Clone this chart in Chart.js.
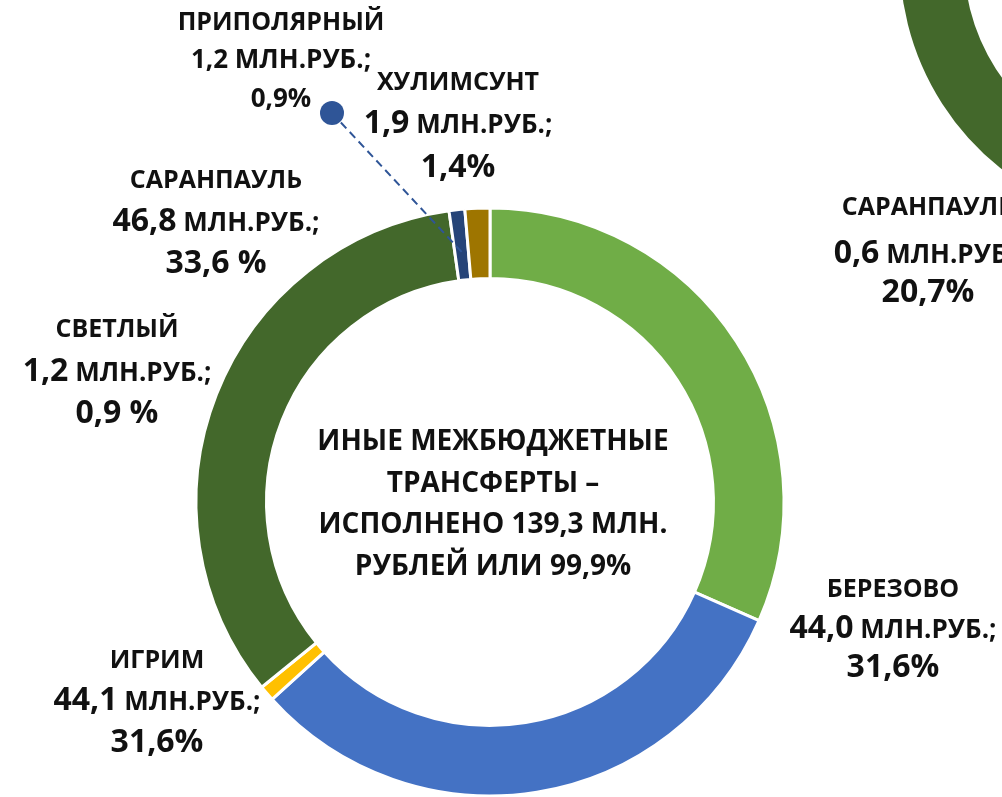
<!DOCTYPE html>
<html lang="ru">
<head>
  <meta charset="UTF-8" />
  <title>Иные межбюджетные трансферты</title>
  <script src="https://cdn.jsdelivr.net/npm/chart.js"></script>
  <style>
    html, body { margin: 0; padding: 0; background: #fff; overflow: hidden; }
    #wrap { position: relative; width: 1002px; height: 797px; overflow: hidden; }
    #sideChart { position: absolute; left: 897px; top: -309px; }
    #mainChart { position: absolute; left: 0; top: 0; }
  </style>
</head>
<body>
  <div id="wrap">
    <canvas id="sideChart" width="540" height="540"></canvas>
    <canvas id="mainChart" width="1002" height="840"></canvas>
  </div>

  <script>
    // поселения, исполнение иных МБТ
    const districts = ['БЕРЕЗОВО', 'ИГРИМ', 'СВЕТЛЫЙ', 'САРАНПАУЛЬ', 'ПРИПОЛЯРНЫЙ', 'ХУЛИМСУНТ'];
    const amounts = [44.0, 44.1, 1.2, 46.8, 1.2, 1.9];      // млн руб.
    const shares = [31.6, 31.6, 0.9, 33.6, 0.9, 1.4];        // %
    const colors = ['#70AD47', '#4472C4', '#FFC000', '#43682B', '#264478', '#9E7500'];

    const centerLines = ['ИНЫЕ МЕЖБЮДЖЕТНЫЕ', 'ТРАНСФЕРТЫ –', 'ИСПОЛНЕНО 139,3 МЛН.', 'РУБЛЕЙ ИЛИ 99,9%'];

    // соседняя диаграмма, от неё виден только край
    const sideDistricts = ['САРАНПАУЛЬ'];
    const sideAmounts = [0.6];
    const sideShares = [20.7];

    // подписи: x центра и базовые линии трёх строк
    const labelPos = [
      [893, 597, 638, 677],
      [157, 668, 710, 752],
      [117, 337, 381, 423],
      [216, 188, 231, 273],
      [281, 30, 68, 107],
      [458, 90, 133, 177]
    ];
    const spacedPct = [false, false, true, true, false, false];
    const smallOnly = [false, false, false, false, true, false];
    const sideLabelPos = [928, 215, 263, 302];
    const centerBase = [450, 492, 533, 575];

    const FONT = '"Open Sans", "Noto Sans", sans-serif';
    const NAME = 'bold 25px ' + FONT;
    const UNIT = 'bold 26px ' + FONT;
    const BIG = 'bold 32px ' + FONT;
    const MID = 'bold 28px ' + FONT;

    function num(v) {
      return v.toFixed(1).replace('.', ',');
    }

    function drawLine(ctx, runs, cx, y) {
      let total = 0;
      runs.forEach(r => { ctx.font = r[1]; total += ctx.measureText(r[0]).width; });
      let x = cx - total / 2;
      runs.forEach(r => {
        ctx.font = r[1];
        ctx.fillText(r[0], x, y);
        x += ctx.measureText(r[0]).width;
      });
    }

    function drawLabel(ctx, name, amount, share, spaced, small, pos) {
      const big = small ? UNIT : BIG;
      drawLine(ctx, [[name, NAME]], pos[0], pos[1]);
      drawLine(ctx, [[num(amount), big], [' МЛН.РУБ.;', UNIT]], pos[0], pos[2]);
      drawLine(ctx, [[num(share) + (spaced ? ' %' : '%'), big]], pos[0], pos[3]);
    }

    const labelPlugin = {
      id: 'labels',
      afterDraw(chart) {
        const ctx = chart.ctx;
        const meta = chart.getDatasetMeta(0);
        ctx.save();

        // выноска к «Приполярному»
        const arc = meta.data[4];
        const p = arc.getProps(['x', 'y', 'startAngle', 'endAngle', 'innerRadius', 'outerRadius']);
        const mid = (p.startAngle + p.endAngle) / 2;
        const r = p.innerRadius + 0.4 * (p.outerRadius - p.innerRadius);
        const dot = [332, 113];
        ctx.strokeStyle = '#2F5597';
        ctx.lineWidth = 2;
        ctx.setLineDash([8, 5]);
        ctx.beginPath();
        ctx.moveTo(dot[0], dot[1]);
        ctx.lineTo(p.x + r * Math.cos(mid), p.y + r * Math.sin(mid));
        ctx.stroke();
        ctx.setLineDash([]);
        ctx.fillStyle = '#2F5597';
        ctx.beginPath();
        ctx.arc(dot[0], dot[1], 12, 0, Math.PI * 2);
        ctx.fill();

        ctx.fillStyle = '#111';
        ctx.textAlign = 'left';
        ctx.textBaseline = 'alphabetic';
        districts.forEach((d, i) => {
          drawLabel(ctx, d, amounts[i], shares[i], spacedPct[i], smallOnly[i], labelPos[i]);
        });
        drawLabel(ctx, sideDistricts[0], sideAmounts[0], sideShares[0], false, false, sideLabelPos);

        // подпись в центре кольца
        centerLines.forEach((t, i) => drawLine(ctx, [[t, MID]], 493, centerBase[i]));
        ctx.restore();
      }
    };

    new Chart(document.getElementById('mainChart'), {
      type: 'doughnut',
      data: {
        labels: districts,
        datasets: [{
          data: amounts,
          backgroundColor: colors,
          borderColor: '#fff',
          borderWidth: 3
        }]
      },
      options: {
        responsive: false,
        animation: false,
        cutout: '76%',
        layout: { padding: { left: 194.5, right: 216.5, top: 206.5, bottom: 42.5 } },
        plugins: { legend: { display: false }, tooltip: { enabled: false } }
      },
      plugins: [labelPlugin]
    });

    // край соседнего кольца: сегмент 20,7 % от полного круга
    const sideCanvas = document.getElementById('sideChart');
    const side = new Chart(sideCanvas, {
      type: 'doughnut',
      data: {
        labels: sideDistricts,
        datasets: [{
          data: sideAmounts,
          backgroundColor: ['#43682B'],
          borderColor: '#fff',
          borderWidth: 3
        }]
      },
      options: {
        responsive: false,
        animation: false,
        cutout: '75%',
        radius: 268,
        rotation: 200,
        circumference: sideShares[0] * 3.6,
        plugins: { legend: { display: false }, tooltip: { enabled: false } }
      }
    });
    // ставим центр кольца в (1166, -40)
    const sideArc = side.getDatasetMeta(0).data[0];
    sideCanvas.style.left = (1166 - sideArc.x) + 'px';
    sideCanvas.style.top = (-40 - sideArc.y) + 'px';
  </script>
</body>
</html>
